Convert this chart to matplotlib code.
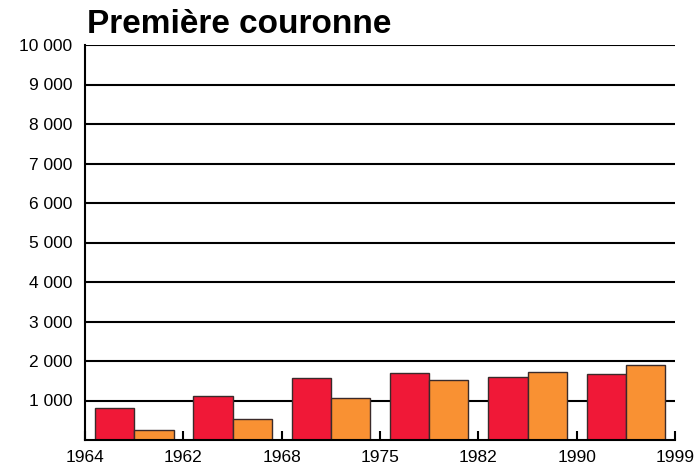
import numpy as np
import matplotlib
matplotlib.use("Agg")
import matplotlib.pyplot as plt

plt.rcParams["font.family"] = ["Liberation Sans", "DejaVu Sans"]

# tick labels at group boundaries (as printed on the original)
year_labels = ["1964", "1962", "1968", "1975", "1982", "1990", "1999"]
red_values = [810, 1115, 1575, 1690, 1605, 1675]
orange_values = [255, 535, 1070, 1520, 1725, 1905]
y_ticks = [1000, 2000, 3000, 4000, 5000, 6000, 7000, 8000, 9000, 10000]

fig = plt.figure(figsize=(6.97, 4.66), dpi=100)
ax = fig.add_axes([85 / 697, 1 - 440 / 466, 590 / 697, 395 / 466])

x = np.arange(len(red_values))
ax.bar(x + 0.1, red_values, width=0.4, align="edge", color="#F01837",
       edgecolor="#3a2a2a", linewidth=1, zorder=3)
ax.bar(x + 0.5, orange_values, width=0.4, align="edge", color="#F99133",
       edgecolor="#3a2a2a", linewidth=1, zorder=3)

ax.set_xlim(0, len(red_values))
ax.set_ylim(0, 10000)
ax.set_xticks(np.arange(len(year_labels)))
ax.set_xticklabels(year_labels)
ax.set_yticks(y_ticks)
ax.set_yticklabels([f"{v:,}".replace(",", " ") for v in y_ticks])

for v in y_ticks:
    ax.axhline(v, color="black", linewidth=1.5, zorder=1)

for s in ["top", "right"]:
    ax.spines[s].set_visible(False)
ax.spines["left"].set_linewidth(1.5)
ax.spines["bottom"].set_linewidth(1.5)
ax.spines["bottom"].set_zorder(4)

ax.tick_params(axis="x", direction="in", length=6.5, width=1.5, pad=7, labelsize=12.5)
ax.tick_params(axis="y", length=0, pad=9, labelsize=12.5)

fig.text(87 / 697, 1 - 33 / 466, "Première couronne", fontsize=24,
         fontweight="bold", ha="left", va="baseline")

plt.savefig("out.png", dpi=100)
